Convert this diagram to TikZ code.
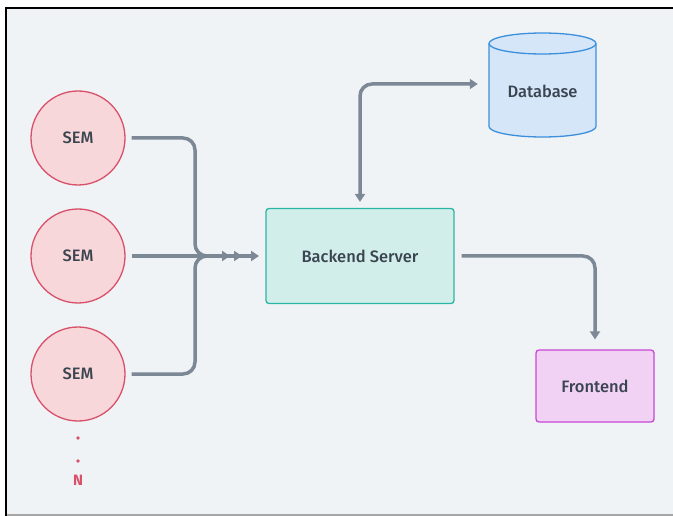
\documentclass[tikz,border=0pt]{standalone}
\usepackage{fontspec}
\setmainfont{Fira Sans}[UprightFont={* Medium}, BoldFont={* Bold}]
\usetikzlibrary{arrows.meta}

\definecolor{canvas}{HTML}{EFF3F6}
\definecolor{ink}{HTML}{3A4550}
\definecolor{wire}{HTML}{7C8895}
\definecolor{semfill}{HTML}{F8D7DB}
\definecolor{semdraw}{HTML}{D9506A}
\definecolor{befill}{HTML}{D2EEEB}
\definecolor{bedraw}{HTML}{2AB5A0}
\definecolor{fefill}{HTML}{F2D2F4}
\definecolor{fedraw}{HTML}{C847D6}
\definecolor{dbfill}{HTML}{D4E6F7}
\definecolor{dbdraw}{HTML}{3C8FDC}

\tikzset{
  label text/.style={text=ink, font=\fontsize{16.5}{18}\selectfont},
  sem/.style={circle, draw=semdraw, fill=semfill, line width=1.3pt,
    minimum size=94pt, inner sep=0pt, label text},
  box/.style={rectangle, rounded corners=3pt, line width=1.3pt,
    inner sep=0pt, label text},
  wirepath/.style={draw=wire, line width=3.5pt, rounded corners=12pt,
    -{Triangle[length=8pt,width=10pt]}},
}

\begin{document}
\begin{tikzpicture}[x=1pt, y=-1pt]
  % page and frame
  \useasboundingbox (0,0) rectangle (673,516);
  \fill[white] (0,0) rectangle (673,516);
  \fill[canvas] (7,9) rectangle (673,514);
  \fill[black] (5,7) rectangle (673,9);
  \fill[black] (5,7) rectangle (7,516);
  \fill[black!35] (7,514) rectangle (673,516);

  % sensor nodes
  \node[sem] (s1) at (78,138) {SEM};
  \node[sem] (s2) at (78,256) {SEM};
  \node[sem] (s3) at (78,374) {SEM};
  \node[circle, fill=semdraw, inner sep=1.4pt] (d1) at (78,438) {};
  \node[circle, fill=semdraw, inner sep=1.4pt] (d2) at (78,461) {};
  \node[text=semdraw, font=\bfseries\fontsize{15}{17}\selectfont] (nn) at (78,480) {N};

  % backend and frontend
  \node[box, draw=bedraw, fill=befill, minimum width=188pt, minimum height=95pt]
    (be) at (360,256) {Backend Server};
  \node[box, draw=fedraw, fill=fefill, minimum width=118pt, minimum height=72pt]
    (fe) at (595,386) {Frontend};

  % database cylinder
  \node[label text, minimum width=107pt, minimum height=104pt, inner sep=0pt]
    (db) at (542.5,85) {};
  \filldraw[draw=dbdraw, fill=dbfill, line width=1.3pt]
    (489,43.5) -- (489,126.5) arc[start angle=180, end angle=360, x radius=53.5, y radius=-10.5]
    -- (596,43.5) arc[start angle=0, end angle=180, x radius=53.5, y radius=-10.5] -- cycle;
  \draw[draw=dbdraw, line width=1.3pt]
    (489,43.5) arc[start angle=180, end angle=360, x radius=53.5, y radius=-10.5];
  \node[label text] (dbtext) at (542.5,91) {Database};

  % merge point of the sensor feeds
  \coordinate (join) at (195,256);
  \coordinate (tip1) at (230,256);
  \coordinate (tip2) at (259,256);
  \coordinate (tip3) at (242,256);

  \draw[wirepath] ([xshift=6pt]s1.east) -| (join) -- (tip1);
  \draw[wirepath] ([xshift=6pt]s2.east) -- (tip2);
  \draw[wirepath] ([xshift=6pt]s3.east) -| (join) -- (tip3);

  % backend to frontend
  \coordinate (feTop) at ([yshift=10pt]fe.north);
  \draw[wirepath] ([xshift=7pt]be.east) -| (feTop);

  % backend to/from database
  \coordinate (bend) at (360,84);
  \draw[wirepath, {Triangle[length=8pt,width=10pt]}-{Triangle[length=8pt,width=10pt]}]
    ([yshift=6pt]be.north) -- (bend) -- ([xshift=-11pt]db.west |- bend);
\end{tikzpicture}
\end{document}
